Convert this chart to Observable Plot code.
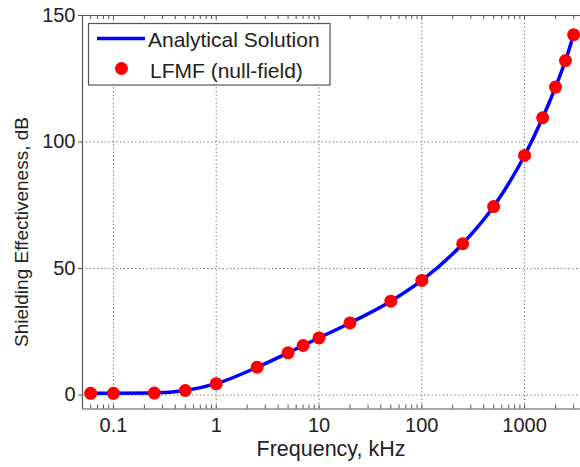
<!DOCTYPE html>
<html>
<head>
<meta charset="utf-8">
<script src="https://cdn.jsdelivr.net/npm/d3@7"></script>
<script src="https://cdn.jsdelivr.net/npm/@observablehq/plot@0.6"></script>
<style>
  html, body { margin: 0; padding: 0; background: #fff; }
  svg { display: block; }
</style>
</head>
<body>
<div id="chart"></div>
<script>
// Data
const frequency = [0.06, 0.1, 0.25, 0.5, 1, 2.5, 5, 7, 10, 20, 50, 100, 250, 500, 1000, 1500, 2000, 2500, 3000];
const shielding = [0.7, 0.7, 0.8, 1.8, 4.5, 11, 16.7, 19.6, 22.6, 28.5, 37.1, 45.3, 59.8, 74.5, 94.7, 109.6, 121.7, 132.2, 142.4];
const xTicks = [0.1, 1, 10, 100, 1000];
const xTickLabels = ["0.1", "1", "10", "100", "1000"];
const yTicks = [0, 50, 100, 150];
const xDomain = [0.05, 3500];
const yDomain = [-5.5, 150];
const seriesNames = ["Analytical Solution", "LFMF (null-field)"];
const xTitle = "Frequency, kHz";
const yTitle = "Shielding Effectiveness, dB";

const data = frequency.map((f, i) => ({f, se: shielding[i]}));

// minor log ticks (1..9 × decades) inside the domain
const minorTicks = [];
for (let e = -2; e <= 3; e++) {
  for (let m = 1; m <= 9; m++) {
    const v = m * Math.pow(10, e);
    if (v >= xDomain[0] && v <= xDomain[1]) minorTicks.push(v);
  }
}

const W = 580, H = 467;
const mTop = 15, mBottom = 58.5, mLeft = 82, mRight = 0;
const frameH = H - mTop - mBottom;
const tickLen = 4;
const axisColor = "#555";
const textColor = "#222";
const gridStyle = {stroke: "#666", strokeWidth: 1, strokeDasharray: "1.2,2.6"};

const chart = Plot.plot({
  width: W,
  height: H,
  marginTop: mTop,
  marginBottom: mBottom,
  marginLeft: mLeft,
  marginRight: mRight,
  style: {fontFamily: "'Liberation Sans', Arial, sans-serif", background: "#fff", color: textColor},
  x: {type: "log", domain: xDomain},
  y: {domain: yDomain},
  marks: [
    Plot.ruleX(xTicks, {x: d => d, ...gridStyle}),
    Plot.ruleY(yTicks.filter(d => d < 150), {y: d => d, ...gridStyle}),
    Plot.tickX(minorTicks, {x: d => d, insetTop: frameH - tickLen, stroke: axisColor}),
    Plot.tickX(minorTicks, {x: d => d, insetBottom: frameH - tickLen, stroke: axisColor}),
    Plot.ruleX([xDomain[0]], {x: d => d, stroke: axisColor, strokeWidth: 1.2}),
    Plot.ruleY([yDomain[0]], {y: d => d, stroke: axisColor, strokeWidth: 1.2}),
    Plot.ruleY([yDomain[1]], {y: d => d, stroke: axisColor, strokeWidth: 1.2}),
    Plot.axisX({
      ticks: xTicks,
      tickFormat: d => xTickLabels[xTicks.indexOf(d)],
      tickSize: 0,
      tickPadding: 9,
      fontSize: 20,
      label: null,
      fill: textColor
    }),
    Plot.axisY({
      ticks: yTicks,
      tickSize: tickLen,
      tickPadding: 3,
      fontSize: 20,
      label: null,
      stroke: axisColor,
      fill: textColor
    }),
    Plot.line(data, {x: "f", y: "se", stroke: "#0000ff", strokeWidth: 3.5, curve: "monotone-x"}),
    Plot.dot(data, {x: "f", y: "se", r: 6.5, fill: "#ff0000", stroke: "none"})
  ]
});

document.getElementById("chart").appendChild(chart);

const svg = d3.select(chart);
const font = "'Liberation Sans', Arial, sans-serif";

// axis titles
svg.append("text")
  .attr("x", 331).attr("y", 456)
  .attr("text-anchor", "middle")
  .attr("font-family", font).attr("font-size", 21.5)
  .attr("fill", textColor)
  .text(xTitle);

svg.append("text")
  .attr("transform", "translate(28,232) rotate(-90)")
  .attr("text-anchor", "middle")
  .attr("font-family", font).attr("font-size", 19)
  .attr("fill", textColor)
  .text(yTitle);

// legend
const lg = svg.append("g").attr("text-anchor", "start");
lg.append("rect")
  .attr("x", 88.5).attr("y", 23.5).attr("width", 241.5).attr("height", 61.5)
  .attr("fill", "#fff").attr("stroke", "#555").attr("stroke-width", 1.2);
lg.append("line")
  .attr("x1", 97).attr("x2", 145).attr("y1", 38.5).attr("y2", 38.5)
  .attr("stroke", "#0000ff").attr("stroke-width", 3.5);
lg.append("text")
  .attr("x", 148).attr("y", 46.5)
  .attr("text-anchor", "start")
  .attr("font-family", font).attr("font-size", 21)
  .attr("fill", textColor)
  .text(seriesNames[0]);
lg.append("circle")
  .attr("cx", 121.5).attr("cy", 68.5).attr("r", 6.5)
  .attr("fill", "#ff0000");
lg.append("text")
  .attr("x", 150).attr("y", 78)
  .attr("text-anchor", "start")
  .attr("font-family", font).attr("font-size", 21)
  .attr("fill", textColor)
  .text(seriesNames[1]);
</script>
</body>
</html>
